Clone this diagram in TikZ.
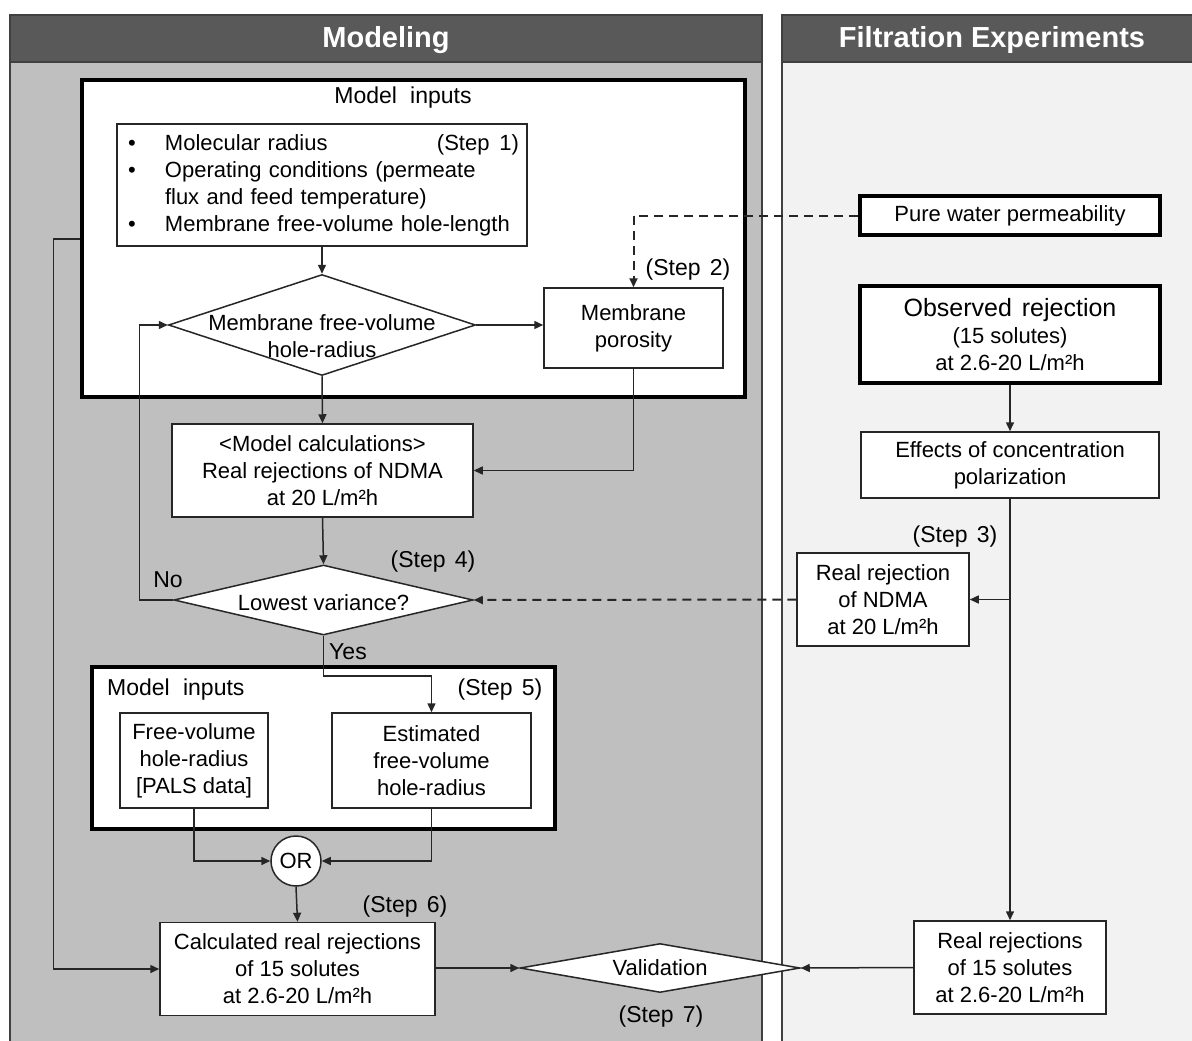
\documentclass[tikz,border=0pt]{standalone}
\usepackage{fontspec}
\setmainfont{Liberation Sans}
\usetikzlibrary{shapes.geometric,arrows.meta,calc}
\definecolor{headgray}{HTML}{595959}
\definecolor{leftbg}{HTML}{BFBFBF}
\definecolor{rightbg}{HTML}{F2F2F2}
\definecolor{edgegray}{HTML}{404040}
\definecolor{linegray}{HTML}{262626}
\begin{document}
\begin{tikzpicture}[x=1pt,y=-1pt,
  >={Triangle[length=9pt,width=8pt]},
  box/.style={draw=linegray, fill=white, line width=1.5pt, align=center, inner sep=0pt,
    font=\fontsize{22}{27}\selectfont},
  thickbox/.style={box, line width=3.2pt, draw=black},
  dia/.style={diamond, draw=linegray, fill=white, line width=1.5pt, inner sep=0pt},
  txt/.style={align=center, inner sep=0pt, font=\fontsize{22}{27}\selectfont},
  lbl/.style={inner sep=0pt, font=\fontsize{23}{27}\selectfont},
  headtext/.style={text=white, inner sep=0pt, font=\fontsize{29}{32}\selectfont\bfseries},
  conn/.style={draw=linegray, line width=1.5pt},
  dashconn/.style={draw=linegray, line width=2pt, dash pattern=on 9pt off 6pt}
]
\clip (0,0) rectangle (1192,1041);
\fill[white] (0,0) rectangle (1192,1041);

% panels
\draw[fill=leftbg, draw=edgegray, line width=1.5pt] (10,15) rectangle (762,1060);
\draw[fill=headgray, draw=edgegray, line width=1.5pt] (10,15) rectangle (762,62);
\draw[fill=rightbg, draw=edgegray, line width=1.5pt] (782,15) rectangle (1210,1060);
\draw[fill=headgray, draw=edgegray, line width=1.5pt] (782,15) rectangle (1210,62);
\node[headtext] (hm) at (386,40.5) {Modeling};
\node[headtext] (hf) at (992,40.5) {Filtration Experiments};

% Modeling: top model inputs
\node[thickbox, minimum width=663, minimum height=317] (mi1) at (413.5,238.5) {};
\node[txt, font=\fontsize{23}{27}\selectfont] (mi1t) at (403,98) {Model\hspace{0.3em} inputs};
\node[box, minimum width=410, minimum height=122, text width=394pt, inner xsep=8pt, align=left] (s1) at (322,185)
 {\makebox[40pt][l]{\hspace{3pt}\textbullet}Molecular radius\hskip 0pt plus 1fill(Step\hspace{0.45em}1)\\
  \makebox[40pt][l]{\hspace{3pt}\textbullet}Operating conditions (permeate\\
  \makebox[40pt][l]{}flux and feed temperature)\\
  \makebox[40pt][l]{\hspace{3pt}\textbullet}Membrane free-volume hole-length};
\node[dia, minimum width=307, minimum height=101] (d1) at (322,325) {};
\node[txt] (d1t) at (322,336) {Membrane free-volume\\hole-radius};
\node[box, minimum width=179, minimum height=80] (por) at (633.5,328) {Membrane\\porosity};
\node[lbl] (st2) at (688,270) {(Step\hspace{0.4em}2)};

\node[box, minimum width=301, minimum height=93] (mc) at (322.5,470.5)
 {\textless Model calculations\textgreater\\Real rejections of NDMA\\at 20 L/m²h};
\node[dia, minimum width=299, minimum height=70] (lv) at (323.5,600) {};
\node[txt] (lvt) at (323.5,603) {Lowest variance?};
\node[lbl] (st4) at (433,562) {(Step\hspace{0.4em}4)};
\node[lbl] (no) at (168,580) {No};
\node[lbl] (yes) at (348,652) {Yes};

% bottom model inputs
\node[thickbox, minimum width=463, minimum height=162] (mi2) at (323.5,748) {};
\node[txt, anchor=west, font=\fontsize{23}{27}\selectfont] (mi2t) at (107,690) {Model\hspace{0.3em} inputs};
\node[lbl] (st5) at (500,690) {(Step\hspace{0.4em}5)};
\node[box, minimum width=148, minimum height=95] (fv) at (194,760.5) {Free-volume\\hole-radius\\{[PALS data]}};
\node[box, minimum width=199, minimum height=95] (est) at (431.5,760.5) {Estimated\\free-volume\\hole-radius};
\node[box, circle, minimum size=50] (or) at (296,861) {OR};
\node[box, minimum width=275, minimum height=93] (calc) at (297.5,969) {Calculated real rejections\\of 15 solutes\\at 2.6-20 L/m²h};
\node[lbl] (st6) at (405,907) {(Step\hspace{0.4em}6)};
\node[dia, minimum width=280, minimum height=49] (val) at (660,968) {};
\node[txt] (valt) at (660,968) {Validation};
\node[lbl] (st7) at (661,1017) {(Step\hspace{0.4em}7)};

% Filtration experiments
\node[thickbox, minimum width=300, minimum height=39] (pw) at (1010,215.5) {Pure water permeability};
\node[thickbox, minimum width=300, minimum height=97] (obs) at (1010,334.5)
 {{\fontsize{25}{27}\selectfont Observed\hspace{0.4em}rejection}\\(15 solutes)\\at 2.6-20 L/m²h};
\node[box, minimum width=298, minimum height=66] (eff) at (1010,465) {Effects of concentration\\polarization};
\node[lbl] (st3) at (955,537) {(Step\hspace{0.4em}3)};
\node[box, minimum width=172, minimum height=93] (ndma) at (883,599.5) {Real rejection\\of NDMA\\at 20 L/m²h};
\node[box, minimum width=192, minimum height=93] (rr) at (1010,967.5) {Real rejections\\of 15 solutes\\at 2.6-20 L/m²h};

% connectors
\coordinate (ly) at (0,239);
\draw[conn,->] (s1.south) -- (d1.north);
\draw[conn,->] (d1.east) -- (d1.east -| por.west);
\draw[conn,->] (d1.south) -- (mc.north);
\draw[conn,->] (por.south) |- (mc.east);
\draw[conn,->] (mc.south) -- (lv.north);
\draw[conn,->] (lv.west) -- ++(-34,0) |- (d1.west);
\draw[conn,->] (lv.south) -- ++(0,40) -| (est.north);
\draw[conn,->] (fv.south) |- (or.west);
\draw[conn,->] (est.south) |- (or.east);
\draw[conn,->] (or.south) -- (calc.north);
\draw[conn,->] (calc.east |- val.west) -- (val.west);
\draw[conn,->] (rr.west) -- (val.east);
\draw[conn,->] (mi1.west |- ly) -- ++(-27,0) |- (calc.west);
\draw[dashconn,->] (pw.west) -| (por.north);
\draw[conn,->] (obs.south) -- (eff.north);
\draw[conn,->] (eff.south) -- (rr.north);
\draw[conn,->] (eff.south |- ndma.east) -- (ndma.east);
\draw[dashconn,->] (ndma.west) -- (lv.east);
\end{tikzpicture}
\end{document}
